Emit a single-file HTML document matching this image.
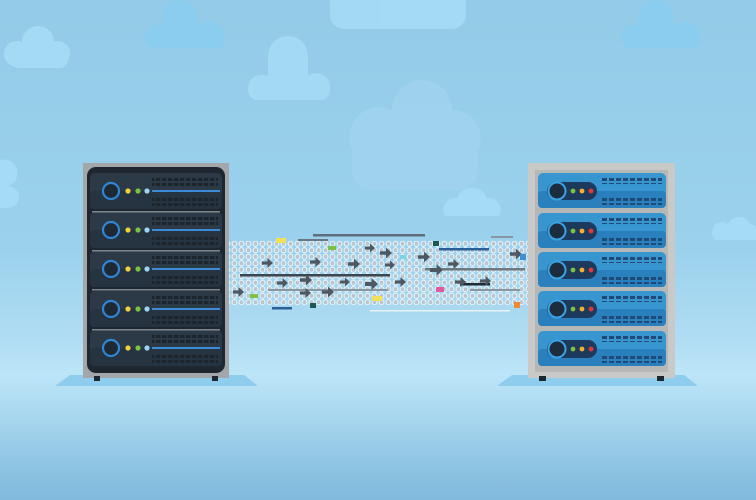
<!DOCTYPE html>
<html><head><meta charset="utf-8"><style>
html,body{margin:0;padding:0;width:756px;height:500px;overflow:hidden;background:#9ad0eb}
svg{position:absolute;left:0;top:0}
</style></head><body>
<svg width="756" height="500" viewBox="0 0 756 500">
<defs>
<linearGradient id="bg" x1="0" y1="0" x2="0" y2="1">
<stop offset="0" stop-color="#93cbe8"/>
<stop offset="0.5" stop-color="#9bd1ec"/>
<stop offset="0.68" stop-color="#b0ddf3"/>
<stop offset="0.75" stop-color="#bde5f8"/>
<stop offset="0.82" stop-color="#acd9f0"/>
<stop offset="0.9" stop-color="#96cae7"/>
<stop offset="1" stop-color="#7fb9dc"/>
</linearGradient>
<pattern id="bits" width="7" height="6.5" patternUnits="userSpaceOnUse">
<ellipse cx="3.5" cy="3.2" rx="2.4" ry="2.6" fill="#b7c6d0" stroke="#eef7fb" stroke-width="1"/>
</pattern>
<pattern id="vd" width="6" height="5" patternUnits="userSpaceOnUse"><rect x="0" y="0" width="4.5" height="3" fill="#1c252d"/></pattern>
<pattern id="vb" width="7" height="5" patternUnits="userSpaceOnUse"><rect x="0" y="0" width="5" height="3" fill="#1f4a78"/></pattern>
<g id="ldunit">
<rect x="90" y="0" width="132" height="36" rx="5" fill="#2c3a48"/>
<rect x="90" y="18" width="132" height="18" rx="4" fill="#263340"/>
<rect x="152" y="3" width="66" height="11" fill="url(#vd)"/>
<rect x="152" y="23" width="66" height="11" fill="url(#vd)"/>
<circle cx="111" cy="18" r="8" fill="#1e2933" stroke="#2f86d6" stroke-width="2.2"/>
<circle cx="128" cy="18" r="2.6" fill="#f1d13a"/>
<circle cx="138" cy="18" r="2.6" fill="#7cc142"/>
<circle cx="147" cy="18" r="2.6" fill="#9fd3f3"/>
<rect x="152" y="17" width="68" height="2" fill="#3b8bd6"/>
</g>
<g id="rtunit">
<rect x="538" y="0" width="128" height="35" rx="5" fill="#3795cf"/>
<rect x="538" y="18" width="128" height="17" rx="4" fill="#2a80bd"/>
<rect x="600" y="3" width="62" height="8" fill="url(#vb)"/>
<rect x="600" y="24" width="62" height="8" fill="url(#vb)"/>
<rect x="547" y="9" width="50" height="18" rx="9" fill="#1d3a5c"/>
<circle cx="557" cy="18" r="8.5" fill="#1c2d3f" stroke="#3aa3e2" stroke-width="2"/>
<circle cx="573" cy="18" r="2.4" fill="#7cc142"/>
<circle cx="582" cy="18" r="2.4" fill="#f1b12c"/>
<circle cx="591" cy="18" r="2.4" fill="#e0393a"/>
</g>
<path id="arr" d="M0,-1.5 H5 V-4.5 L10,0 L5,4.5 V1.5 H0Z" fill="#4e5862"/>
</defs>
<rect x="0" y="0" width="756" height="500" fill="url(#bg)"/>

<!-- clouds -->
<g fill="#a6dbf5" opacity="0.9">
<path d="M12,66 a12,12 0 0 1 10,-24 a16,16 0 0 1 32,0 a12,12 0 0 1 14,18 a8,8 0 0 1 -8,8 h-42z"/>
<path d="M248,90 a14,14 0 0 1 20,-14 v-20 a20,20 0 0 1 40,0 v20 a14,14 0 0 1 22,14 a10,10 0 0 1 -10,10 h-62 a10,10 0 0 1 -10,-10z"/>
<path d="M330,0 h136 v15 a14,14 0 0 1 -14,14 h-108 a14,14 0 0 1 -14,-14z"/>
<path d="M445,216 a12,12 0 0 1 12,-18 a16,16 0 0 1 30,0 a12,12 0 0 1 12,18z"/>
<path d="M0,160 v48 h8 a11,11 0 0 0 0,-22 a13,13 0 0 0 -8,-26z"/>
<path d="M716,240 a10,10 0 0 1 12,-16 a12,12 0 0 1 22,0 a10,10 0 0 1 6,16z"/>
</g>
<g fill="#8bcdee">
<path d="M152,48 a12,12 0 0 1 10,-22 v-8 a18,18 0 0 1 36,0 v8 a12,12 0 0 1 22,22z"/>
<path d="M628,48 a12,12 0 0 1 10,-22 v-8 a18,18 0 0 1 36,0 v8 a12,12 0 0 1 22,22z"/>
<path d="M558,222 a12,12 0 0 1 12,-18 a18,18 0 0 1 36,0 a12,12 0 0 1 20,18 z"/>
<path d="M84,222 a12,12 0 0 1 12,-18 a18,18 0 0 1 36,0 a12,12 0 0 1 20,18 z"/>
</g>
<path d="M352,150 a30,30 0 0 1 40,-40 a30,30 0 0 1 60,0 a28,28 0 0 1 26,40 v20 a20,20 0 0 1 -20,20 h-86 a20,20 0 0 1 -20,-20z" fill="#a4d5ef" opacity="0.6"/>

<!-- platforms -->
<path d="M70,375 H244 L258,386 H55Z" fill="#8fcdee"/>
<path d="M512,375 H684 L698,386 H497Z" fill="#8fcdee"/>

<!-- data stream -->
<rect x="229" y="241" width="299" height="64" fill="url(#bits)"/>
<g>
<rect x="313" y="234" width="112" height="2.5" fill="#5f6d7b"/>
<rect x="298" y="239" width="30" height="2" fill="#6b7680"/>
<rect x="491" y="236" width="22" height="2" fill="#8a96a0"/>
<rect x="240" y="274" width="150" height="2.5" fill="#3b4650"/>
<rect x="425" y="268" width="100" height="2.5" fill="#6d7883"/>
<rect x="460" y="283" width="30" height="2.5" fill="#1f2a34"/>
<rect x="268" y="289" width="120" height="2" fill="#8a96a0"/>
<rect x="470" y="289" width="50" height="2" fill="#8a96a0"/>
<rect x="272" y="307" width="20" height="2.5" fill="#2b5f9a"/>
<rect x="439" y="248" width="50" height="2.5" fill="#2b5f9a"/>
</g>
<g>
<use href="#arr" transform="translate(365,248) scale(1)"/>
<use href="#arr" transform="translate(380,253) scale(1.2)"/>
<use href="#arr" transform="translate(418,257) scale(1.2)"/>
<use href="#arr" transform="translate(448,264) scale(1.1)"/>
<use href="#arr" transform="translate(510,254) scale(1.2)"/>
<use href="#arr" transform="translate(262,263) scale(1.1)"/>
<use href="#arr" transform="translate(310,262) scale(1.1)"/>
<use href="#arr" transform="translate(348,264) scale(1.2)"/>
<use href="#arr" transform="translate(385,265) scale(1)"/>
<use href="#arr" transform="translate(430,270) scale(1.3)"/>
<use href="#arr" transform="translate(277,283) scale(1.1)"/>
<use href="#arr" transform="translate(300,280) scale(1.2)"/>
<use href="#arr" transform="translate(340,282) scale(1)"/>
<use href="#arr" transform="translate(365,284) scale(1.3)"/>
<use href="#arr" transform="translate(395,282) scale(1.1)"/>
<use href="#arr" transform="translate(455,282) scale(1.1)"/>
<use href="#arr" transform="translate(480,281) scale(1.1)"/>
<use href="#arr" transform="translate(233,292) scale(1.1)"/>
<use href="#arr" transform="translate(300,293) scale(1.1)"/>
<use href="#arr" transform="translate(322,292) scale(1.2)"/>
</g>
<g>
<rect x="276" y="238" width="10" height="5" fill="#f3e05a"/>
<rect x="328" y="246" width="8" height="4" fill="#7cc142"/>
<rect x="433" y="241" width="6" height="5" fill="#1e5a52"/>
<rect x="400" y="255" width="6" height="4" fill="#7fd3e8"/>
<rect x="520" y="254" width="6" height="6" fill="#3a8fd8"/>
<rect x="436" y="287" width="8" height="5" fill="#e05aa0"/>
<rect x="250" y="294" width="8" height="4" fill="#7cc142"/>
<rect x="372" y="296" width="10" height="5" fill="#f3e05a"/>
<rect x="310" y="303" width="6" height="5" fill="#1e5a52"/>
<rect x="514" y="302" width="6" height="6" fill="#f08a32"/>
<rect x="370" y="310" width="140" height="1.5" fill="#e6f3fa"/>
</g>

<!-- left server -->
<rect x="83" y="163" width="146" height="215" fill="#a3a7aa"/>
<rect x="87" y="167" width="138" height="206" rx="9" fill="#1e272f"/>
<use href="#ldunit" y="173"/>
<use href="#ldunit" y="212"/>
<use href="#ldunit" y="251"/>
<use href="#ldunit" y="291"/>
<use href="#ldunit" y="330"/>
<g fill="#7d858c"><rect x="92" y="211" width="128" height="1.5"/><rect x="92" y="250" width="128" height="1.5"/><rect x="92" y="289" width="128" height="1.5"/><rect x="92" y="329" width="128" height="1.5"/></g>
<rect x="94" y="376" width="6" height="5" fill="#1e272f"/><rect x="212" y="376" width="6" height="5" fill="#1e272f"/>

<!-- right server -->
<rect x="528" y="163" width="147" height="215" fill="#c9c9c7"/>
<rect x="535" y="170" width="133" height="202" fill="#b6b8b8"/>
<use href="#rtunit" y="173"/>
<use href="#rtunit" y="213"/>
<use href="#rtunit" y="252"/>
<use href="#rtunit" y="291"/>
<use href="#rtunit" y="331"/>
<rect x="539" y="376" width="7" height="5" fill="#1e272f"/><rect x="657" y="376" width="7" height="5" fill="#1e272f"/>
</svg>
</body></html>
